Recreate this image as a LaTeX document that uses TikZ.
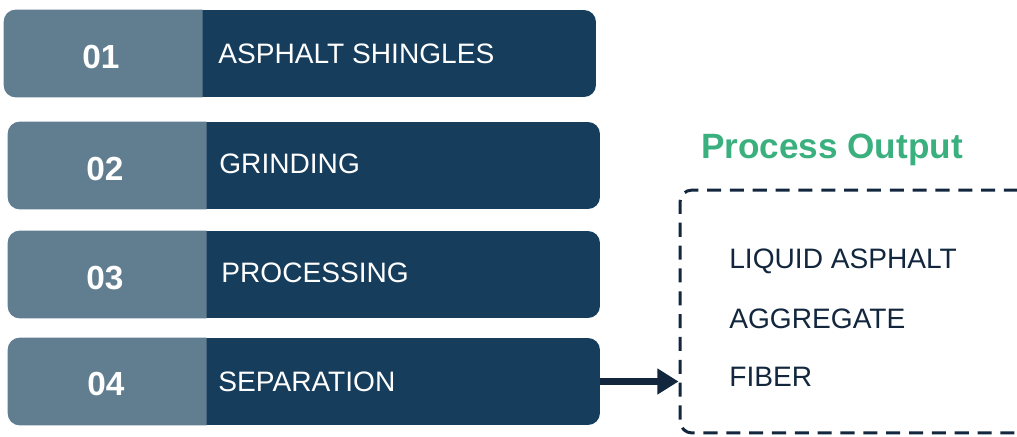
\documentclass[tikz,border=0pt]{standalone}
\usepackage{fontspec}
\setmainfont{Liberation Sans}
\usetikzlibrary{arrows.meta}

\definecolor{stepdark}{RGB}{22,61,92}
\definecolor{steplight}{RGB}{96,126,144}
\definecolor{outgreen}{RGB}{59,176,127}
\definecolor{outnavy}{RGB}{18,38,62}

\tikzset{
  stepbox/.style={fill=stepdark, rounded corners=6.8pt, minimum width=11.84cm, minimum height=1.74cm, inner sep=0pt},
  numtext/.style={white, font=\fontsize{19}{22}\selectfont\bfseries, inner sep=0pt},
  steptext/.style={white, font=\fontsize{16}{19}\selectfont, anchor=west, inner sep=0pt},
  outtext/.style={outnavy, font=\fontsize{16}{19}\selectfont, anchor=west, inner sep=0pt},
}

\begin{document}
\begin{tikzpicture}[x=0.02cm, y=-0.02cm]
    \useasboundingbox (0,0) rectangle (1017,436);
    \clip (0,0) rectangle (1017,436);
    % step 01
    \node[stepbox] (s1) at (300,53.5) {};
    \fill[steplight, rounded corners=6.8pt] ([xshift=3.98cm]s1.north west) -- (s1.north west) -- (s1.south west) -- ([xshift=3.98cm]s1.south west);
    \node[numtext] (n1) at (101,57) {01};
    \node[steptext] (t1) at (218,54) {ASPHALT SHINGLES};
    % step 02
    \node[stepbox] (s2) at (304,165.5) {};
    \fill[steplight, rounded corners=6.8pt] ([xshift=3.98cm]s2.north west) -- (s2.north west) -- (s2.south west) -- ([xshift=3.98cm]s2.south west);
    \node[numtext] (n2) at (105,169) {02};
    \node[steptext] (t2) at (219,164) {GRINDING};
    % step 03
    \node[stepbox] (s3) at (304,274.5) {};
    \fill[steplight, rounded corners=6.8pt] ([xshift=3.98cm]s3.north west) -- (s3.north west) -- (s3.south west) -- ([xshift=3.98cm]s3.south west);
    \node[numtext] (n3) at (105,278) {03};
    \node[steptext] (t3) at (221,273) {PROCESSING};
    % step 04
    \node[stepbox] (s4) at (304,381.5) {};
    \fill[steplight, rounded corners=6.8pt] ([xshift=3.98cm]s4.north west) -- (s4.north west) -- (s4.south west) -- ([xshift=3.98cm]s4.south west);
    \node[numtext] (n4) at (106,384) {04};
    \node[steptext] (t4) at (218,382) {SEPARATION};
    % output
    \node[outgreen, font=\fontsize{20}{24}\selectfont\bfseries, inner sep=0pt] (title) at (832,150) {Process Output};
    \node[draw=outnavy, line width=1.7pt, dash pattern=on 8pt off 5pt, rounded corners=6.8pt, minimum width=7cm, minimum height=4.86cm, inner sep=0pt] (out) at (855,311.5) {};
    \node[outtext] (o1) at (729,261) {LIQUID ASPHALT};
    \node[outtext] (o2) at (729,319) {AGGREGATE};
    \node[outtext] (o3) at (729,377) {FIBER};
    % arrow
    \draw[outnavy, line width=4pt, -{Triangle[length=12pt,width=14pt]}] (s4.east) -- (s4.east -| out.west);
\end{tikzpicture}
\end{document}
